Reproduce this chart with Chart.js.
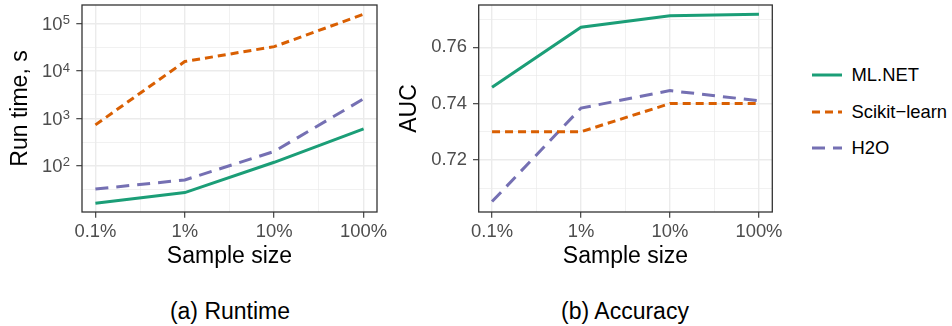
<!DOCTYPE html>
<html>
<head>
<meta charset="utf-8">
<script src="https://cdn.jsdelivr.net/npm/chart.js@4.4.1/dist/chart.umd.min.js"></script>
<style>
  body { margin: 0; background: #fff; font-family: "Liberation Sans", Arial, sans-serif; }
  #wrap { position: relative; width: 952px; height: 326px; overflow: hidden; }
  canvas { position: absolute; top: 0; }
  .legend-item { position: absolute; left: 812px; height: 22px; display: flex; align-items: center; font-size: 18.4px; color: #000; white-space: nowrap; }
  .legend-item svg { margin-right: 9.5px; }
  .caption { position: absolute; top: 298px; font-size: 23px; line-height: 26px; color: #000; transform: translateX(-50%); white-space: nowrap; }
</style>
</head>
<body>
<div id="wrap">
  <canvas id="runtime" width="390" height="280" style="left:0"></canvas>
  <canvas id="accuracy" width="400" height="280" style="left:390px"></canvas>
  <div id="legend"></div>
  <div class="caption" style="left:230px">(a) Runtime</div>
  <div class="caption" style="left:625px">(b) Accuracy</div>
</div>
<script>
// sample sizes (percent of data) and their labels
const sampleLabels = ['0.1%', '1%', '10%', '100%'];
const samplePct = [0.1, 1, 10, 100];

// run time in seconds
const runtimeMLNET = [16, 27, 118, 600];
const runtimeSklearn = [730, 16000, 33000, 160000];
const runtimeH2O = [32, 50, 200, 2600];

// AUC
const aucMLNET = [0.7458, 0.7671, 0.7712, 0.7717];
const aucSklearn = [0.730, 0.730, 0.740, 0.740];
const aucH2O = [0.7052, 0.7384, 0.7446, 0.7410];

const runtimeTicks = [100, 1000, 10000, 100000];
const aucTicks = [0.72, 0.74, 0.76];

const seriesNames = ['ML.NET', 'Scikit\u2212learn', 'H2O'];
const seriesColors = ['#1B9E77', '#D95F02', '#7570B3'];
const seriesDash = [[], [8, 5], [13, 8]];

const FONT = '"Liberation Sans", Arial, sans-serif';
const GRID = '#EBEBEB';
const TICKCOL = '#4D4D4D';

function makeDatasets(values) {
  return values.map((vals, i) => ({
    label: seriesNames[i],
    data: vals.map((v, j) => ({ x: samplePct[j], y: v })),
    borderColor: seriesColors[i],
    borderDash: seriesDash[i],
    borderWidth: 3,
    borderCapStyle: 'butt',
    pointRadius: 0,
    tension: 0,
    fill: false
  }));
}

const isPow10 = v => Math.abs(Math.log10(v) - Math.round(Math.log10(v))) < 1e-6;

// panel border drawn on top, like ggplot theme_bw
const borderPlugin = {
  id: 'panelBorder',
  afterDraw(chart) {
    const a = chart.chartArea, c = chart.ctx;
    c.save();
    c.strokeStyle = '#333333';
    c.lineWidth = 1.3;
    c.strokeRect(a.left, a.top, a.right - a.left, a.bottom - a.top);
    c.restore();
  }
};

// 10^n labels with real superscripts
const powLabels = {
  id: 'powLabels',
  afterDraw(chart) {
    const s = chart.scales.y, c = chart.ctx;
    c.save();
    c.fillStyle = TICKCOL;
    runtimeTicks.forEach(v => {
      const y = s.getPixelForValue(v);
      const exp = String(Math.round(Math.log10(v)));
      const right = 70;
      c.font = '13px ' + FONT;
      c.textAlign = 'right';
      c.textBaseline = 'alphabetic';
      const ew = c.measureText(exp).width;
      c.fillText(exp, right, y + 0.5);
      c.font = '18.4px ' + FONT;
      c.textBaseline = 'middle';
      c.fillText('10', right - ew - 0.3, y + 1);
    });
    c.restore();
  }
};

const xScale = {
  type: 'logarithmic',
  min: 0.1 / Math.pow(10, 0.15),
  max: 100 * Math.pow(10, 0.15),
  afterBuildTicks: s => {
    s.ticks = [0.1, Math.sqrt(0.1), 1, Math.sqrt(10), 10, Math.sqrt(1000), 100].map(v => ({ value: v }));
  },
  afterFit: s => { s.height = 68; s.paddingLeft = 0; s.paddingRight = 0; },
  grid: {
    color: GRID,
    lineWidth: ctx => isPow10(ctx.tick.value) ? 1.4 : 0.7,
    tickColor: ctx => isPow10(ctx.tick.value) ? '#333333' : 'rgba(0,0,0,0)',
    tickLength: 5.7,
    tickWidth: 1.1
  },
  border: { display: false },
  ticks: {
    autoSkip: false,
    maxRotation: 0,
    padding: 3,
    color: TICKCOL,
    font: { family: FONT, size: 18.4 },
    callback: v => {
      const i = samplePct.findIndex(p => Math.abs(p - v) < 1e-9);
      return i >= 0 ? sampleLabels[i] : '';
    }
  },
  title: {
    display: true,
    text: 'Sample size',
    color: '#000',
    font: { family: FONT, size: 23 },
    padding: { top: 0, bottom: 9.5 }
  }
};

const runtimeChart = new Chart(document.getElementById('runtime'), {
  type: 'line',
  data: { datasets: makeDatasets([runtimeMLNET, runtimeSklearn, runtimeH2O]) },
  options: {
    responsive: false,
    animation: false,
    devicePixelRatio: 1,
    layout: { padding: { top: 5, right: 13, left: 0, bottom: 0 } },
    plugins: { legend: { display: false }, tooltip: { enabled: false } },
    scales: {
      x: xScale,
      y: {
        type: 'logarithmic',
        min: Math.pow(10, 1.02),
        max: Math.pow(10, 5.4),
        afterBuildTicks: s => {
          const t = [];
          for (let e = 1.5; e <= 5.0001; e += 0.5) t.push({ value: Math.pow(10, e) });
          s.ticks = t;
        },
        afterFit: s => { s.width = 82; s.paddingTop = 0; s.paddingBottom = 0; },
        grid: {
          color: GRID,
          lineWidth: ctx => isPow10(ctx.tick.value) ? 1.4 : 0.7,
          tickColor: ctx => isPow10(ctx.tick.value) ? '#333333' : 'rgba(0,0,0,0)',
          tickLength: 5.7,
          tickWidth: 1.1
        },
        border: { display: false },
        ticks: { autoSkip: false, callback: () => '' },
        title: {
          display: true,
          text: 'Run time, s',
          color: '#000',
          font: { family: FONT, size: 23 },
          padding: { top: 7, bottom: 0 }
        }
      }
    }
  },
  plugins: [borderPlugin, powLabels]
});

const accuracyChart = new Chart(document.getElementById('accuracy'), {
  type: 'line',
  data: { datasets: makeDatasets([aucMLNET, aucSklearn, aucH2O]) },
  options: {
    responsive: false,
    animation: false,
    devicePixelRatio: 1,
    layout: { padding: { top: 5, right: 17.7, left: 0, bottom: 0 } },
    plugins: { legend: { display: false }, tooltip: { enabled: false } },
    scales: {
      x: xScale,
      y: {
        type: 'linear',
        min: 0.7015,
        max: 0.775,
        afterBuildTicks: s => {
          s.ticks = [0.71, 0.72, 0.73, 0.74, 0.75, 0.76, 0.77].map(v => ({ value: v }));
        },
        afterFit: s => { s.width = 88.7; s.paddingTop = 0; s.paddingBottom = 0; },
        grid: {
          color: GRID,
          lineWidth: ctx => aucTicks.some(t => Math.abs(t - ctx.tick.value) < 1e-9) ? 1.4 : 0.7,
          tickColor: ctx => aucTicks.some(t => Math.abs(t - ctx.tick.value) < 1e-9) ? '#333333' : 'rgba(0,0,0,0)',
          tickLength: 5.7,
          tickWidth: 1.1
        },
        border: { display: false },
        ticks: {
          autoSkip: false,
          padding: 6,
          color: TICKCOL,
          font: { family: FONT, size: 18.4 },
          callback: v => aucTicks.some(t => Math.abs(t - v) < 1e-9) ? v.toFixed(2) : ''
        },
        title: {
          display: true,
          text: 'AUC',
          color: '#000',
          font: { family: FONT, size: 23 },
          padding: { top: 6, bottom: 0 }
        }
      }
    }
  },
  plugins: [borderPlugin]
});

// legend to the right of the accuracy panel
const legendBox = document.getElementById('legend');
const legendY = [75, 112, 148];
seriesNames.forEach((name, i) => {
  const item = document.createElement('div');
  item.className = 'legend-item';
  item.style.top = (legendY[i] - 11) + 'px';
  const dash = seriesDash[i].length ? 'stroke-dasharray="' + seriesDash[i].join(' ') + '"' : '';
  item.innerHTML = '<svg width="30" height="6"><line x1="0" y1="3" x2="30" y2="3" stroke="' +
    seriesColors[i] + '" stroke-width="3" ' + dash + '/></svg>' + name;
  legendBox.appendChild(item);
});
</script>
</body>
</html>
